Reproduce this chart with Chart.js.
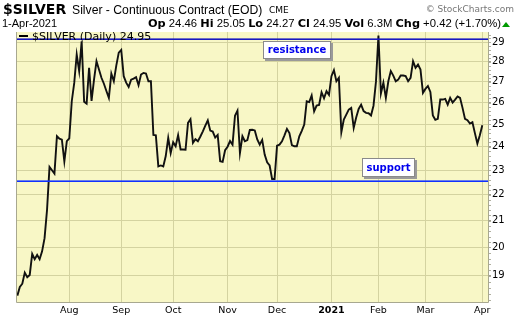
<!DOCTYPE html>
<html>
<head>
<meta charset="utf-8">
<script src="https://cdn.jsdelivr.net/npm/chart.js@4/dist/chart.umd.min.js"></script>
<style>
  html, body { margin: 0; padding: 0; background: #fff; }
  #wrap { position: relative; width: 520px; height: 318px; overflow: hidden; }
  canvas { position: absolute; left: 0; top: 0; }
  .t { position: absolute; white-space: nowrap; color: #000; }
  .sym { left: 3px; top: 1px; font: bold 14px "DejaVu Sans", sans-serif; }
  .name { left: 72px; top: 3px; font: 12.2px "Liberation Sans", Arial, sans-serif; }
  .exch { left: 269px; top: 5px; font: 9px "DejaVu Sans", sans-serif; }
  .copy { right: 6px; top: 4px; font: 9px "DejaVu Sans", sans-serif; color: #777; }
  .date { left: 2px; top: 17px; font: 11px "Liberation Sans", Arial, sans-serif; }
  .quote { right: 19px; top: 17px; font: 11.3px "Liberation Sans", Arial, sans-serif; }
  .quote b { font: bold 11.3px "DejaVu Sans", sans-serif; }
  .tri { position: absolute; right: 10px; top: 22px; width: 0; height: 0;
         border-left: 4px solid transparent; border-right: 4px solid transparent; border-bottom: 5px solid #009900; }
  .legend { left: 19px; top: 30px; font: 11px "DejaVu Sans", sans-serif; }
  .legend i { display: inline-block; width: 9px; height: 2px; background: #000; vertical-align: middle; margin-right: 4px; position: relative; top: -1px; }
  .note { position: absolute; background: #fff; border: 1px solid #8a8a8a; box-shadow: 2px 2px 0 #9a9a9a;
          font: bold 10px "DejaVu Sans", sans-serif; color: #0000ee; text-align: center; box-sizing: border-box; }
</style>
</head>
<body>
<div id="wrap">
  <canvas id="c" width="520" height="318"></canvas>
  <div class="t sym">$SILVER</div>
  <div class="t name">Silver - Continuous Contract (EOD)</div>
  <div class="t exch">CME</div>
  <div class="t copy">© StockCharts.com</div>
  <div class="t date">1-Apr-2021</div>
  <div class="t quote"><b>Op</b> 24.46 <b>Hi</b> 25.05 <b>Lo</b> 24.27 <b>Cl</b> 24.95 <b>Vol</b> 6.3M <b>Chg</b> +0.42 (+1.70%)</div>
  <div class="tri"></div>
  <div class="t legend"><i></i>$SILVER (Daily) 24.95</div>
  <div class="note" id="n0" style="left:263px; top:41px; width:68px; height:18px; line-height:16px;">resistance</div>
  <div class="note" id="n1" style="left:362px; top:158px; width:53px; height:19px; line-height:17px;">support</div>
</div>
<script>
// ---- data ----
// daily closes, trading-day index 1 (2-Jul-2020) .. 189 (1-Apr-2021)
const closes = [
  18.33, 18.62, 18.73, 19.11, 18.95, 19.03, 19.77, 19.58, 19.73, 19.58,
  19.86, 20.34, 21.41, 23.14, 23.00, 22.86, 24.46, 24.35, 24.31, 23.37,
  24.24, 24.37, 26.06, 26.94, 28.36, 27.52, 29.05, 26.04, 25.95, 27.69,
  26.08, 27.10, 28.02, 27.60, 27.19, 26.90, 26.55, 26.22, 27.40, 27.02,
  27.80, 28.46, 28.60, 27.27, 26.95, 26.74, 27.10, 27.15, 27.22, 26.83,
  27.35, 27.43, 27.40, 27.02, 27.02, 24.52, 24.50, 23.16, 23.20, 23.16,
  23.60, 24.39, 23.73, 24.20, 24.02, 24.51, 23.88, 23.88, 23.87, 25.06,
  25.23, 24.17, 24.33, 24.24, 24.45, 24.68, 24.93, 25.17, 24.71, 24.67,
  24.40, 24.52, 23.38, 23.35, 23.85, 24.00, 24.25, 24.09, 25.39, 25.62,
  23.73, 24.46, 24.24, 24.29, 24.74, 24.75, 24.72, 24.32, 24.09, 24.30,
  23.66, 23.33, 23.20, 22.64, 22.64, 24.05, 24.09, 24.24, 24.50, 24.79,
  24.60, 24.07, 24.02, 24.02, 24.46, 24.70, 24.98, 26.06, 26.02, 26.33,
  25.59, 25.86, 25.89, 26.49, 26.20, 26.54, 26.36, 27.27, 27.57, 27.02,
  27.19, 24.64, 25.21, 25.44, 25.67, 25.75, 24.83, 25.30, 25.70, 25.90,
  25.60, 25.52, 25.50, 25.40, 25.85, 27.00, 29.35, 26.43, 26.95, 26.22,
  27.02, 27.52, 27.30, 27.02, 27.10, 27.30, 27.30, 27.27, 27.02, 27.19,
  28.02, 27.69, 27.85, 27.60, 26.46, 26.65, 26.79, 26.50, 25.40, 25.20,
  25.24, 26.14, 26.14, 26.17, 25.90, 26.22, 26.00, 26.14, 26.29, 26.22,
  25.75, 25.24, 25.18, 25.03, 25.09, 24.60, 24.14, 24.50, 24.95
];
const monthLabels = ['Aug', 'Sep', 'Oct', 'Nov', 'Dec', '2021', 'Feb', 'Mar', 'Apr'];
const monthStartIdx = [22, 43, 64, 86, 106, 128, 147, 166, 189];
const yTickValues = [19, 20, 21, 22, 23, 24, 25, 26, 27, 28, 29];
const levelNames = ['resistance', 'support'];
const levelValues = [29.18, 22.57];
const levelColors = ['#1818c0', '#1030ff'];

const points = closes.map((v, i) => ({ x: i + 1, y: v }));

const PLOT_BG = '#f8f7c6';
const GRID = '#d4d3a0';
const FRAME = '#a8a890';

const framePlugin = {
  id: 'frame',
  beforeDraw(chart) {
    const { ctx, chartArea: a } = chart;
    ctx.save();
    ctx.fillStyle = PLOT_BG;
    ctx.fillRect(a.left, a.top, a.right - a.left, a.bottom - a.top);
    ctx.restore();
  },
  afterDatasetsDraw(chart) {
    const { ctx, chartArea: a } = chart;
    const y = chart.scales.y;
    ctx.save();
    for (let i = 0; i < levelValues.length; i++) {
      const py = Math.round(y.getPixelForValue(levelValues[i]));
      ctx.fillStyle = levelColors[i];
      ctx.fillRect(a.left, py - 0.6, a.right - a.left, 1.6);
    }
    ctx.restore();
  },
  afterDraw(chart) {
    const { ctx, chartArea: a } = chart;
    ctx.save();
    ctx.strokeStyle = FRAME;
    ctx.lineWidth = 1;
    ctx.beginPath();
    ctx.moveTo(a.left + 0.5, a.top);
    ctx.lineTo(a.left + 0.5, a.bottom + 0.5);
    ctx.lineTo(a.right + 0.5, a.bottom + 0.5);
    ctx.lineTo(a.right + 0.5, a.top);
    ctx.stroke();
    const y = chart.scales.y;
    ctx.strokeStyle = '#b0b0a0';
    for (let v = 18.2; v < 29.5; v += 0.2) {
      const py = Math.round(y.getPixelForValue(v)) + 0.5;
      ctx.beginPath();
      ctx.moveTo(a.right + 1, py);
      ctx.lineTo(a.right + 3, py);
      ctx.stroke();
    }
    ctx.restore();
  }
};

new Chart(document.getElementById('c'), {
  type: 'line',
  data: {
    datasets: [{
      label: '$SILVER (Daily)',
      data: points,
      borderColor: '#111',
      borderWidth: 1.9,
      pointRadius: 0,
      tension: 0,
      fill: false
    }]
  },
  options: {
    responsive: false,
    animation: false,
    layout: { padding: { top: 32, left: 16, right: 0, bottom: 0 } },
    plugins: { legend: { display: false }, tooltip: { enabled: false } },
    scales: {
      x: {
        type: 'linear',
        min: 0.45,
        max: 191.3,
        afterBuildTicks(s) { s.ticks = monthStartIdx.map(v => ({ value: v })); },
        afterFit(s) { s.height = 16; },
        grid: { color: GRID, lineWidth: 1, drawTicks: false },
        border: { display: false },
        ticks: {
          padding: 3,
          maxRotation: 0,
          autoSkip: false,
          color: '#000',
          font: (c) => ({ family: 'DejaVu Sans', size: 9.5, weight: (c.tick && c.tick.value === 128) ? 'bold' : 'normal' }),
          callback: (v) => { const k = monthStartIdx.indexOf(v); return k >= 0 ? monthLabels[k] : ''; }
        }
      },
      y: {
        type: 'logarithmic',
        position: 'right',
        min: 18.12,
        max: 29.54,
        afterBuildTicks(s) { s.ticks = yTickValues.map(v => ({ value: v })); },
        afterFit(s) { s.width = 32; },
        grid: { color: GRID, lineWidth: 1, tickLength: 3, tickColor: '#a0a090' },
        border: { display: false },
        ticks: {
          padding: 1,
          color: '#000',
          font: { family: 'DejaVu Sans', size: 10 },
          callback: (v) => String(v)
        }
      }
    }
  },
  plugins: [framePlugin]
});
</script>
</body>
</html>
